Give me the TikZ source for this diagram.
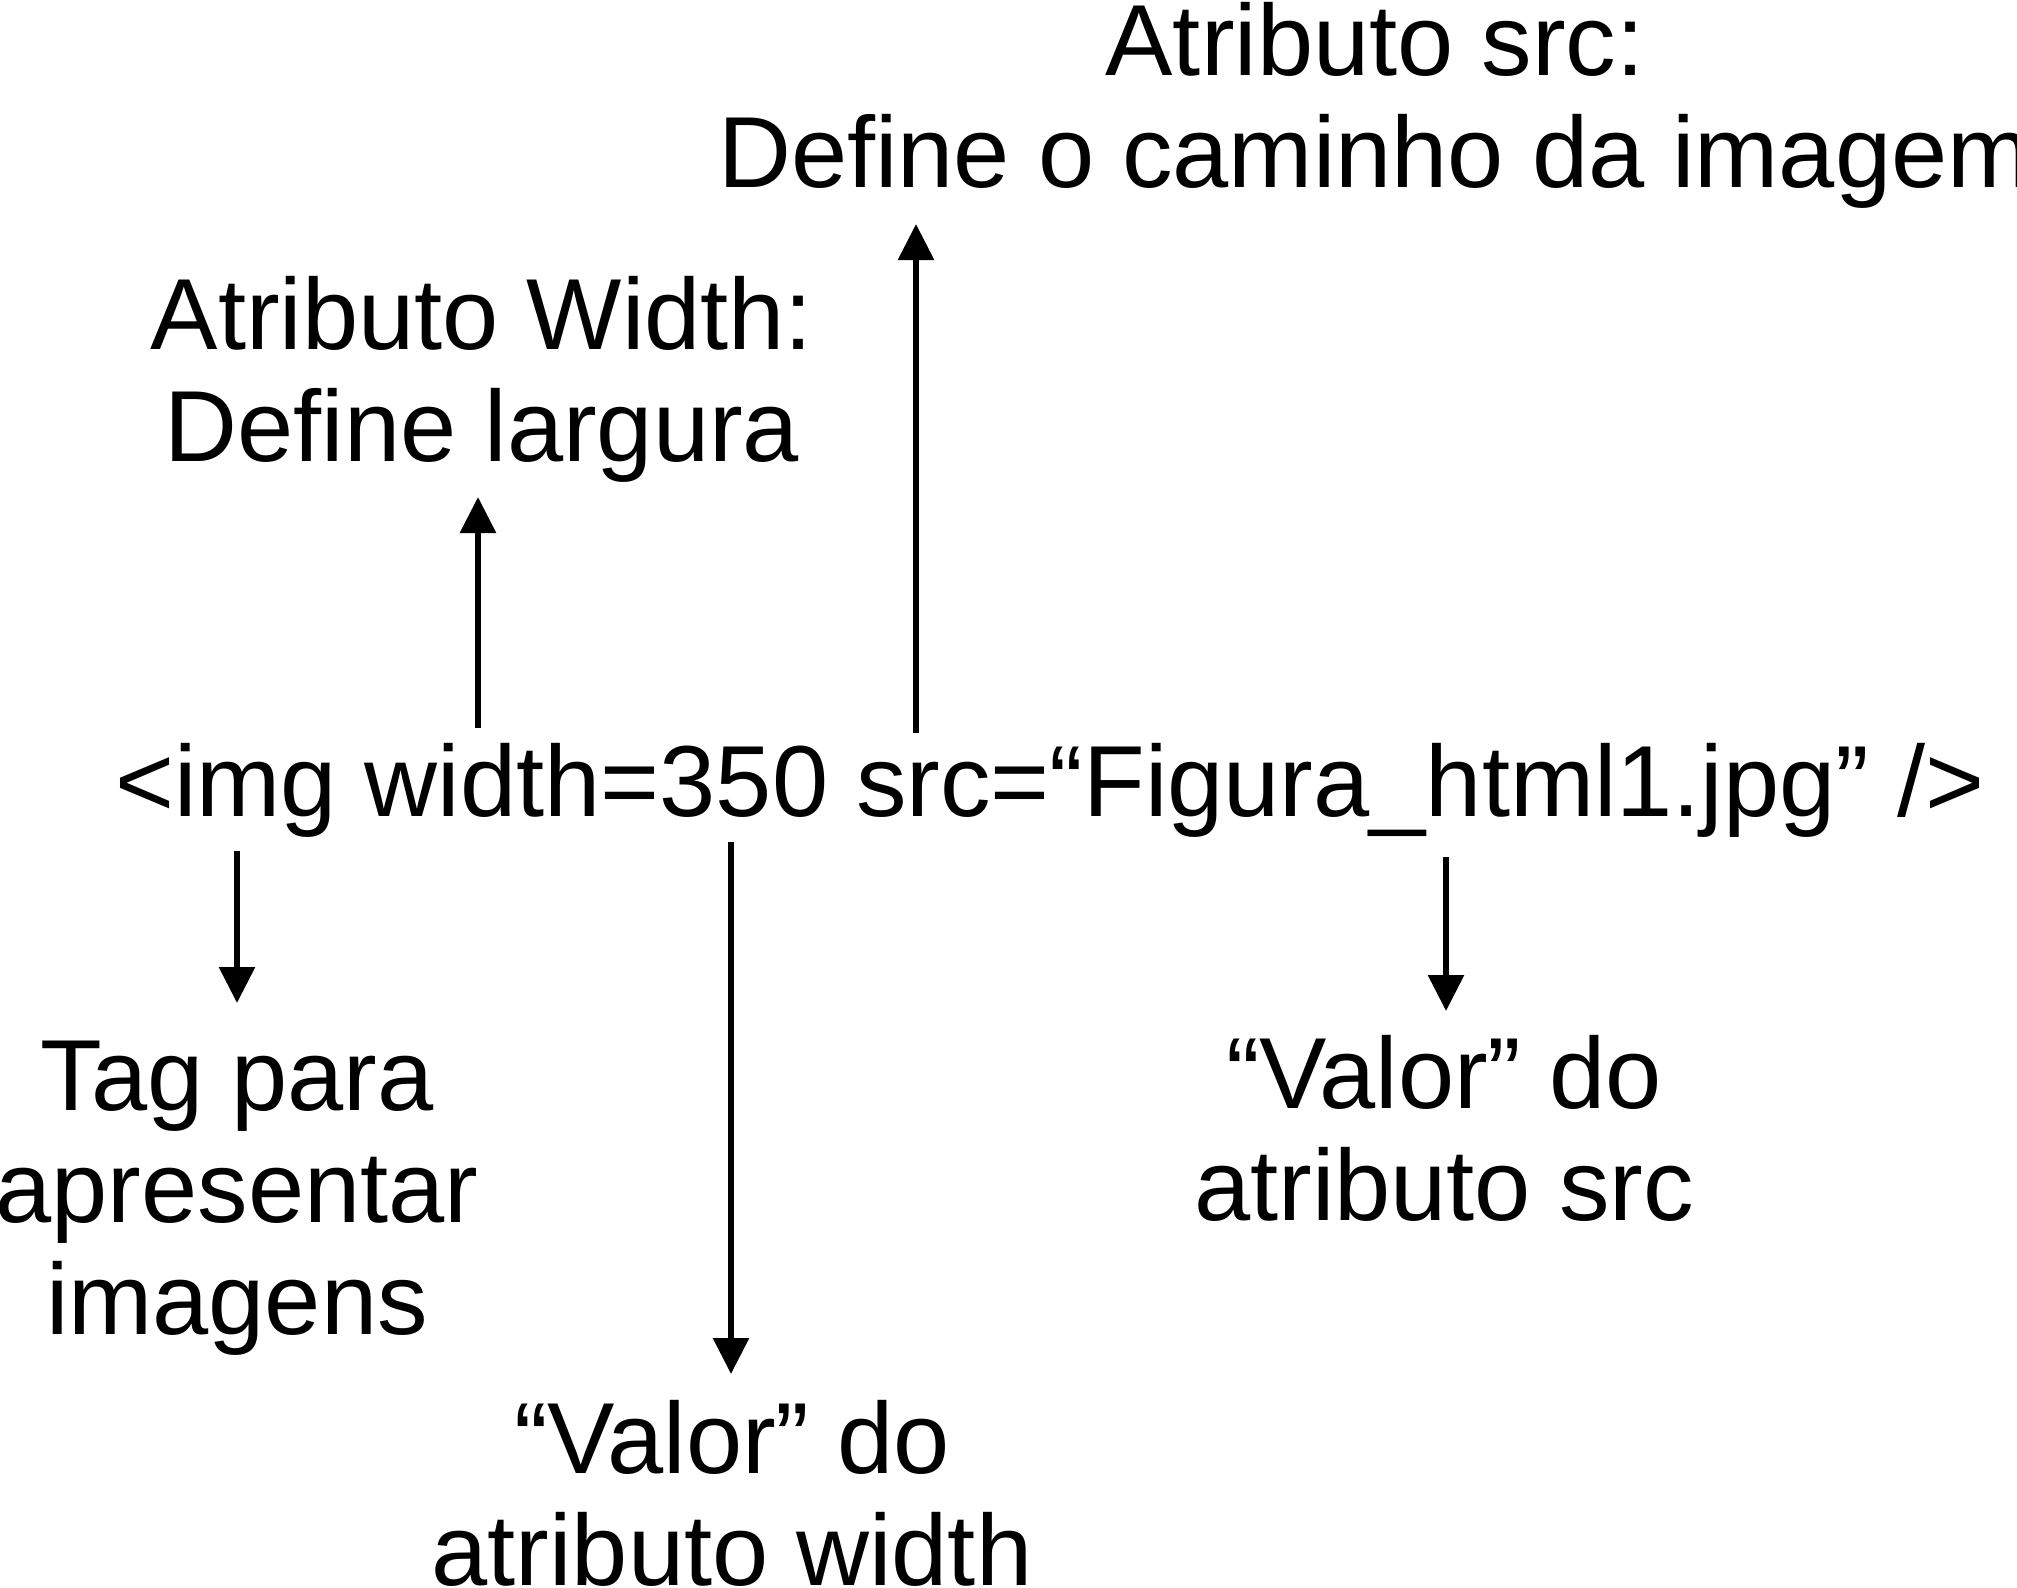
\documentclass[tikz,border=0pt]{standalone}
\usepackage{fontspec}
\setmainfont{Liberation Sans}
\usetikzlibrary{arrows.meta}
\begin{document}
\begin{tikzpicture}[x=1pt,y=-1pt,
  lbl/.style={align=center,inner sep=0pt,anchor=base,font=\fontsize{101}{112}\selectfont},
  arr/.style={line width=6pt,-{Triangle[width=35pt,length=36pt]}}]
\useasboundingbox (0,0) rectangle (2017,1587);
\node[lbl] (main) at (1050,816) {<img width=350 src=“Figura\_html1.jpg” />};
\node[lbl] (src) at (1375,187) {Atributo src:\\Define o caminho da imagem};
\node[lbl] (wid) at (482,461) {Atributo Width:\\Define largura};
\node[lbl] (tag) at (237,1334) {Tag para\\apresentar\\imagens};
\node[lbl] (vw) at (732,1585) {“Valor” do\\atributo width};
\node[lbl] (vs) at (1444,1220) {“Valor” do\\atributo src};
\coordinate (wA) at (478,728);  \coordinate (wB) at (478,497);
\coordinate (sA) at (916,733);  \coordinate (sB) at (916,224);
\coordinate (tA) at (237,851);  \coordinate (tB) at (237,1003);
\coordinate (mA) at (731,842);  \coordinate (mB) at (731,1374);
\coordinate (rA) at (1446,857); \coordinate (rB) at (1446,1011);
\draw[arr] (wA) -- (wB);
\draw[arr] (sA) -- (sB);
\draw[arr] (tA) -- (tB);
\draw[arr] (mA) -- (mB);
\draw[arr] (rA) -- (rB);
\end{tikzpicture}
\end{document}
